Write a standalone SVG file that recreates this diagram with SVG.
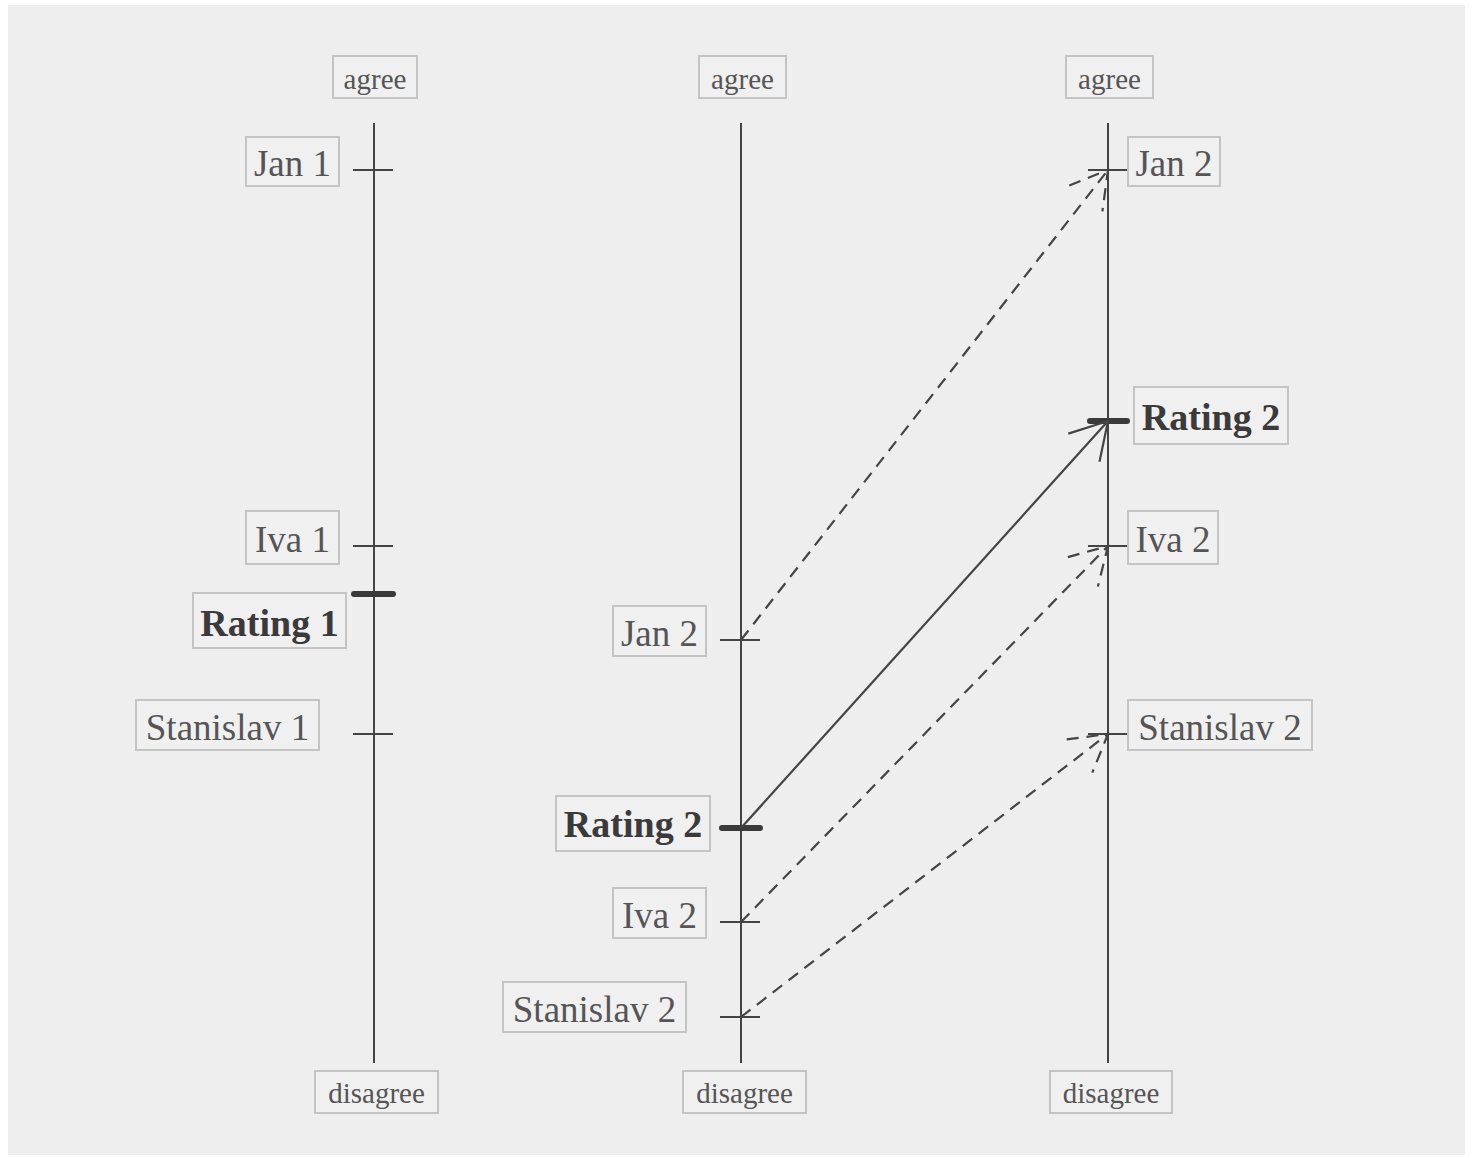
<svg xmlns="http://www.w3.org/2000/svg" width="1473" height="1158" viewBox="0 0 1473 1158">
<style>
.box{fill:#f0f0f0;stroke:#c4c4c4;stroke-width:2}
.t{font-family:"Liberation Serif",serif;fill:#555;text-anchor:middle}
.sm{font-size:29px}
.lg{font-size:37px}
.b{font-weight:bold;fill:#3a3a3a;font-size:38px}
.axis{stroke:#444;stroke-width:2}
.tick{stroke:#444;stroke-width:2}
.thick{stroke:#3a3a3a;stroke-width:6;stroke-linecap:round}
.dash{stroke:#444;stroke-width:2.2;fill:none;stroke-dasharray:12 8}
.solid{stroke:#444;stroke-width:2.2;fill:none}
</style>
<defs>
<marker id="ad" markerUnits="userSpaceOnUse" orient="auto" refX="0" refY="0" markerWidth="60" markerHeight="60" viewBox="-50 -30 60 60" overflow="visible">
<path d="M-36,-21 L0,0 L-36,21" fill="none" stroke="#444" stroke-width="2.2" stroke-dasharray="12 8"/>
</marker>
<marker id="as" markerUnits="userSpaceOnUse" orient="auto" refX="0" refY="0" markerWidth="60" markerHeight="60" viewBox="-50 -30 60 60" overflow="visible">
<path d="M-36,-21 L0,0 L-36,21" fill="none" stroke="#444" stroke-width="2.2"/>
</marker>
</defs>
<rect x="0" y="0" width="1473" height="1158" fill="#fff"/>
<rect x="8" y="5" width="1457" height="1150" fill="#eeeeee"/>

<g id="axes">
<line class="axis" x1="374" y1="123" x2="374" y2="1063"/>
<line class="axis" x1="741" y1="123" x2="741" y2="1063"/>
<line class="axis" x1="1108" y1="123" x2="1108" y2="1063"/>
</g>

<g id="agree-1"><rect class="box" x="333" y="56" width="84" height="42"/><text class="t sm" x="375" y="89">agree</text></g>
<g id="agree-2"><rect class="box" x="699" y="56" width="87" height="42"/><text class="t sm" x="742.5" y="89">agree</text></g>
<g id="agree-3"><rect class="box" x="1066" y="56" width="87" height="42"/><text class="t sm" x="1109.5" y="89">agree</text></g>
<g id="disagree-1"><rect class="box" x="315" y="1071" width="123" height="42"/><text class="t sm" x="376.5" y="1103">disagree</text></g>
<g id="disagree-2"><rect class="box" x="683" y="1071" width="123" height="42"/><text class="t sm" x="744.5" y="1103">disagree</text></g>
<g id="disagree-3"><rect class="box" x="1050" y="1071" width="122" height="42"/><text class="t sm" x="1111" y="1103">disagree</text></g>

<g id="jan1"><line class="tick" x1="353" y1="170" x2="393" y2="170"/><rect class="box" x="246" y="137" width="93" height="49"/><text class="t lg" x="292.5" y="176">Jan 1</text></g>
<g id="iva1"><line class="tick" x1="353" y1="546" x2="393" y2="546"/><rect class="box" x="246" y="511" width="93" height="53"/><text class="t lg" x="292.5" y="552">Iva 1</text></g>
<g id="rating1"><line class="thick" x1="354" y1="594" x2="393" y2="594"/><rect class="box" x="193" y="593" width="153" height="55"/><text class="t b" x="269.5" y="636">Rating 1</text></g>
<g id="stanislav1"><line class="tick" x1="353" y1="734" x2="393" y2="734"/><rect class="box" x="136" y="700" width="183" height="50"/><text class="t lg" x="227.5" y="740">Stanislav 1</text></g>

<g id="jan2-mid"><line class="tick" x1="720" y1="640" x2="760" y2="640"/><rect class="box" x="613" y="606" width="93" height="50"/><text class="t lg" x="659.5" y="646">Jan 2</text></g>
<g id="rating2-mid"><line class="thick" x1="722" y1="828" x2="760" y2="828"/><rect class="box" x="556" y="796" width="154" height="55"/><text class="t b" x="633" y="837">Rating 2</text></g>
<g id="iva2-mid"><line class="tick" x1="720" y1="922" x2="760" y2="922"/><rect class="box" x="613" y="888" width="93" height="50"/><text class="t lg" x="659.5" y="928">Iva 2</text></g>
<g id="stanislav2-mid"><line class="tick" x1="720" y1="1017" x2="760" y2="1017"/><rect class="box" x="503" y="982" width="183" height="50"/><text class="t lg" x="594.5" y="1022">Stanislav 2</text></g>

<g id="jan2-right"><line class="tick" x1="1088" y1="170" x2="1128" y2="170"/><rect class="box" x="1128" y="137" width="92" height="49"/><text class="t lg" x="1174" y="176">Jan 2</text></g>
<g id="rating2-right"><line class="thick" x1="1090" y1="421" x2="1127" y2="421"/><rect class="box" x="1134" y="387" width="154" height="57"/><text class="t b" x="1211" y="430">Rating 2</text></g>
<g id="iva2-right"><line class="tick" x1="1088" y1="546" x2="1128" y2="546"/><rect class="box" x="1128" y="511" width="90" height="53"/><text class="t lg" x="1173" y="552">Iva 2</text></g>
<g id="stanislav2-right"><line class="tick" x1="1088" y1="734" x2="1128" y2="734"/><rect class="box" x="1128" y="700" width="184" height="50"/><text class="t lg" x="1220" y="740">Stanislav 2</text></g>

<g id="connectors">
<line class="dash" x1="741" y1="640" x2="1108" y2="170" marker-end="url(#ad)"/>
<line class="solid" x1="741" y1="828" x2="1108" y2="421" marker-end="url(#as)"/>
<line class="dash" x1="741" y1="922" x2="1108" y2="546" marker-end="url(#ad)"/>
<line class="dash" x1="741" y1="1017" x2="1108" y2="734" marker-end="url(#ad)"/>
</g>
</svg>
